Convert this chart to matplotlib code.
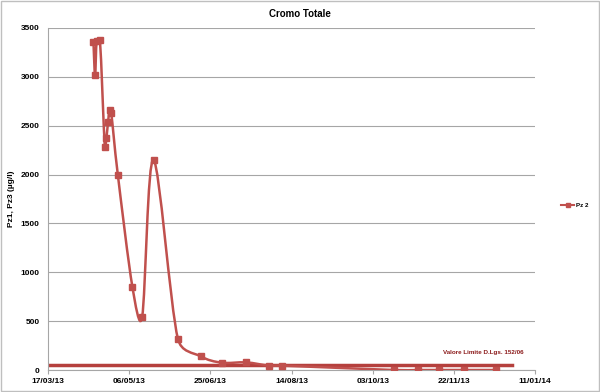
import numpy as np
import pandas as pd
import matplotlib
matplotlib.use('Agg')
import matplotlib.pyplot as plt
import matplotlib.dates as mdates
from matplotlib.path import Path
from matplotlib.patches import PathPatch, Rectangle
from matplotlib.lines import Line2D

# Pz 2 - Cromo totale (ug/l)
dates = ['2013-04-14', '2013-04-15', '2013-04-16', '2013-04-18', '2013-04-21',
         '2013-04-22', '2013-04-23', '2013-04-24', '2013-04-25', '2013-04-29',
         '2013-05-08', '2013-05-14', '2013-05-21', '2013-06-05', '2013-06-19',
         '2013-07-02', '2013-07-17', '2013-07-31', '2013-08-08', '2013-10-16',
         '2013-10-31', '2013-11-13', '2013-11-28', '2013-12-18']
values = [3355, 3020, 3370, 3375, 2280, 2375, 2540, 2660, 2625, 2000,
          850, 545, 2150, 320, 140, 75, 78, 45, 45, 0,
          0, 0, 0, 0]

limit_dates = ['2013-03-17', '2013-12-28']
limit_values = [50, 50]
limit_label = 'Valore Limite D.Lgs. 152/06'

xticks = pd.date_range('2013-03-17', '2014-01-11', freq='50D')

red = '#C0504D'
dark = '#8B1A1A'

fig = plt.figure(figsize=(6, 3.92), dpi=100)
fig.patches.append(Rectangle((0.002, 0.002), 0.996, 0.996, transform=fig.transFigure,
                             fill=False, edgecolor='#BFBFBF', lw=1))
ax = fig.add_axes([0.08, 0.0561, 0.8117, 0.8725])
ax.set_xlim(mdates.date2num(xticks[0]), mdates.date2num(xticks[-1]))
ax.set_ylim(0, 3500)

x = mdates.date2num(pd.to_datetime(dates))
y = np.array(values, dtype=float)

# Excel-like smoothed line: bezier arms of 1/6 chord, capped at half the segment,
# worked out in screen space, then mapped back to data coords
fig.canvas.draw()
pts = ax.transData.transform(np.column_stack([x, y]))
verts = [pts[0]]
codes = [Path.MOVETO]
n = len(pts)
for i in range(n - 1):
    p0 = pts[max(i - 1, 0)]
    p1 = pts[i]
    p2 = pts[i + 1]
    p3 = pts[min(i + 2, n - 1)]
    seg = np.hypot(*(p2 - p1))
    a = (p2 - p0) / 6.0
    la = np.hypot(*a)
    if la > seg / 2:
        a = a * (seg / 2) / la
    b = (p3 - p1) / 6.0
    lb = np.hypot(*b)
    if lb > seg / 2:
        b = b * (seg / 2) / lb
    verts += [p1 + a, p2 - b, p2]
    codes += [Path.CURVE4] * 3
verts = ax.transData.inverted().transform(np.array(verts))
ax.add_patch(PathPatch(Path(verts, codes), facecolor='none', edgecolor=red, lw=1.8, zorder=3))
ax.plot(x, y, ls='none', marker='s', ms=5, color=red, zorder=4)

lx = mdates.date2num(pd.to_datetime(limit_dates))
ax.plot(lx, limit_values, color='#B5403D', lw=2.5, zorder=2)
ax.text(mdates.date2num(pd.Timestamp('2013-12-10')), 150, limit_label, color=dark,
        fontsize=4.5, fontweight='bold', ha='center', va='bottom', family='Liberation Sans')

ax.set_xticks(mdates.date2num(xticks))
ax.set_xticklabels([d.strftime('%d/%m/%y') for d in xticks])
ax.set_yticks(range(0, 3501, 500))
ax.yaxis.grid(True, color='#A6A6A6', lw=0.8)
ax.set_axisbelow(True)
for s in ['top', 'right']:
    ax.spines[s].set_visible(False)
for s in ['left', 'bottom']:
    ax.spines[s].set_color('#A6A6A6')
ax.tick_params(axis='x', length=3, color='#A6A6A6', labelsize=6, pad=3)
ax.tick_params(axis='y', length=0, labelsize=6, pad=6)
for lab in ax.get_xticklabels() + ax.get_yticklabels():
    lab.set_family('Liberation Sans')
    lab.set_fontweight('bold')

ax.set_ylabel('Pz1, Pz3 (µg/l)', fontsize=6, fontweight='bold', family='Liberation Sans', labelpad=4)
fig.text(0.5, 0.965, 'Cromo Totale', ha='center', va='center', fontsize=7,
         fontweight='bold', family='Liberation Sans')

h = Line2D([], [], color=red, marker='s', ms=3, lw=1.5)
fig.legend([h], ['Pz 2'], loc='center left', bbox_to_anchor=(0.925, 0.477), frameon=False,
           prop={'size': 4.5, 'weight': 'bold', 'family': 'Liberation Sans'},
           handlelength=2.2, handletextpad=0.3)

fig.savefig('out.png', dpi=100)
